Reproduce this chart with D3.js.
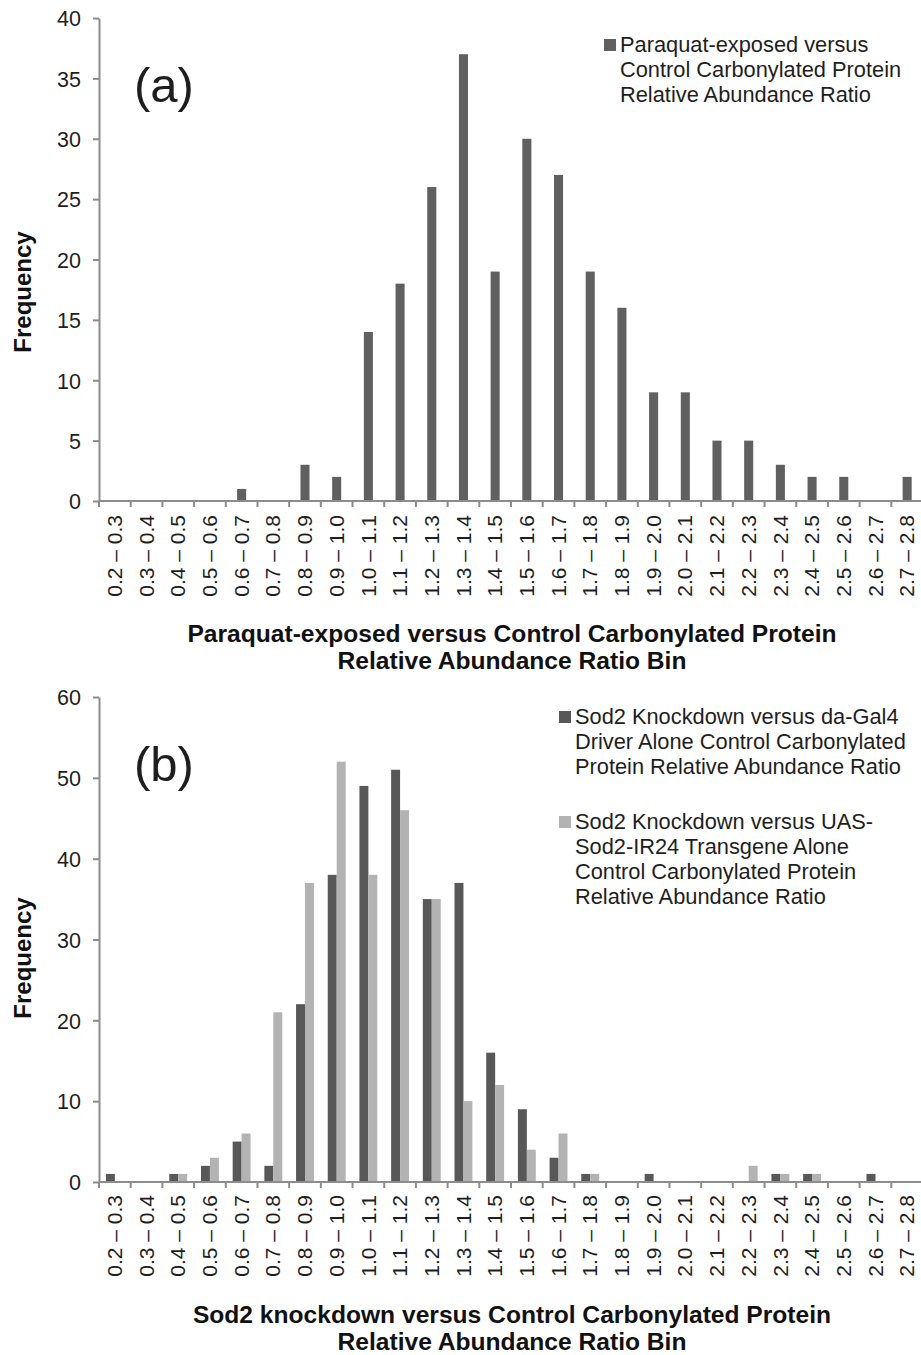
<!DOCTYPE html>
<html>
<head>
<meta charset="utf-8">
<script src="https://cdn.jsdelivr.net/npm/d3@7"></script>
<style>
  body { margin: 0; background: #fff; }
  svg text { font-family: "Liberation Sans", Arial, sans-serif; fill: #1e1e1e; }
  .axis path, .axis line { stroke: #8c8c8c; stroke-width: 2px; }
</style>
</head>
<body>
<div id="chart"></div>
<script>
// bins (x categories)
var binLabels = ["0.2 – 0.3","0.3 – 0.4","0.4 – 0.5","0.5 – 0.6","0.6 – 0.7","0.7 – 0.8",
  "0.8 – 0.9","0.9 – 1.0","1.0 – 1.1","1.1 – 1.2","1.2 – 1.3","1.3 – 1.4","1.4 – 1.5",
  "1.5 – 1.6","1.6 – 1.7","1.7 – 1.8","1.8 – 1.9","1.9 – 2.0","2.0 – 2.1","2.1 – 2.2",
  "2.2 – 2.3","2.3 – 2.4","2.4 – 2.5","2.5 – 2.6","2.6 – 2.7","2.7 – 2.8"];

// panel (a)
var paraquat = [0,0,0,0,1,0,3,2,14,18,26,37,19,30,27,19,16,9,9,5,5,3,2,2,0,2];
var yTicksA = [0,5,10,15,20,25,30,35,40];

// panel (b)
var sod2Gal4 = [1,0,1,2,5,2,22,38,49,51,35,37,16,9,3,1,0,1,0,0,0,1,1,0,1,0];
var sod2UAS  = [0,0,1,3,6,21,37,52,38,46,35,10,12,4,6,1,0,0,0,0,2,1,1,0,0,0];
var yTicksB = [0,10,20,30,40,50,60];

var svg = d3.select("#chart").append("svg")
    .attr("width", 921)
    .attr("height", 1355);

var left = 99, right = 923;

function drawPanel(p) {
    var g = svg.append("g");

    var x = d3.scaleBand()
        .domain(binLabels)
        .range([left, right])
        .padding(0);

    var y = d3.scaleLinear()
        .domain([0, d3.max(p.yTicks)])
        .range([p.bottom, p.top]);

    // bars
    var sub = d3.scaleBand()
        .domain(p.series.map((s, i) => i))
        .range([0, x.bandwidth()])
        .paddingInner(0)
        .paddingOuter(p.series.length == 1 ? 1.25 : 0.77);

    p.series.forEach(function(vals, si) {
        g.selectAll(".bar" + si)
            .data(vals)
          .enter().append("rect")
            .attr("x", (d, i) => x(binLabels[i]) + sub(si))
            .attr("width", sub.bandwidth())
            .attr("y", d => y(d))
            .attr("height", d => p.bottom - y(d))
            .style("fill", p.colors[si]);
    });

    // y axis
    var yAxis = d3.axisLeft(y).tickValues(p.yTicks).tickSize(6).tickSizeOuter(0).tickPadding(12);
    var ya = g.append("g")
        .attr("class", "axis")
        .attr("transform", "translate(" + left + ",0)")
        .call(yAxis);
    ya.selectAll("text").style("font-size", "21.5px").attr("dy", "0.36em");

    // x axis: ticks at band boundaries
    var xa = g.append("g").attr("class", "axis");
    xa.append("line")
        .attr("x1", left).attr("x2", 921)
        .attr("y1", p.bottom).attr("y2", p.bottom);
    xa.selectAll(".xtick")
        .data(binLabels)
      .enter().append("line")
        .attr("x1", (d, i) => left + i * x.step())
        .attr("x2", (d, i) => left + i * x.step())
        .attr("y1", p.bottom).attr("y2", p.bottom + 6);
    xa.selectAll(".xlab")
        .data(binLabels)
      .enter().append("text")
        .attr("transform", d => "translate(" + (x(d) + x.bandwidth() / 2) + "," + (p.bottom + p.labelGap) + ") rotate(-90)")
        .attr("dy", "0.34em")
        .style("text-anchor", "end")
        .style("font-size", "21px")
        .text(d => d);

    // axis titles
    g.append("text")
        .attr("transform", "translate(31," + p.yTitleY + ") rotate(-90)")
        .style("text-anchor", "middle")
        .style("font-size", "24px")
        .style("font-weight", "bold")
        .style("fill", "#111")
        .text("Frequency");

    p.xTitle.forEach(function(line, i) {
        g.append("text")
            .attr("x", 512)
            .attr("y", p.xTitleY + i * 27)
            .style("text-anchor", "middle")
            .style("font-size", "24.6px")
            .style("font-weight", "bold")
            .style("fill", "#111")
            .text(line);
    });

    // panel letter
    g.append("text")
        .attr("x", 134)
        .attr("y", p.letterY)
        .style("font-size", "49px")
        .text(p.letter);

    // legend
    p.legend.forEach(function(item, si) {
        g.append("rect")
            .attr("x", p.legX - 16)
            .attr("y", item.y - 13)
            .attr("width", 12)
            .attr("height", 12)
            .style("fill", p.colors[si]);
        item.lines.forEach(function(line, li) {
            g.append("text")
                .attr("x", p.legX)
                .attr("y", item.y + li * 25)
                .style("font-size", "21.8px")
                .text(line);
        });
    });
}

drawPanel({
    top: 18, bottom: 501, yTicks: yTicksA,
    series: [paraquat], colors: ["#606060"],
    labelGap: 14, yTitleY: 292,
    xTitle: ["Paraquat-exposed versus Control Carbonylated Protein", "Relative Abundance Ratio Bin"],
    xTitleY: 642, letter: "(a)", letterY: 102,
    legX: 620,
    legend: [{y: 52, lines: ["Paraquat-exposed versus", "Control Carbonylated Protein", "Relative Abundance Ratio"]}]
});

drawPanel({
    top: 697, bottom: 1182, yTicks: yTicksB,
    series: [sod2Gal4, sod2UAS], colors: ["#585858", "#b3b3b3"],
    labelGap: 13, yTitleY: 958,
    xTitle: ["Sod2 knockdown versus Control Carbonylated Protein", "Relative Abundance Ratio Bin"],
    xTitleY: 1323, letter: "(b)", letterY: 781,
    legX: 575,
    legend: [
        {y: 724, lines: ["Sod2 Knockdown versus da-Gal4", "Driver Alone Control Carbonylated", "Protein Relative Abundance Ratio"]},
        {y: 829, lines: ["Sod2 Knockdown versus UAS-", "Sod2-IR24 Transgene Alone", "Control Carbonylated Protein", "Relative Abundance Ratio"]}
    ]
});
</script>
</body>
</html>
